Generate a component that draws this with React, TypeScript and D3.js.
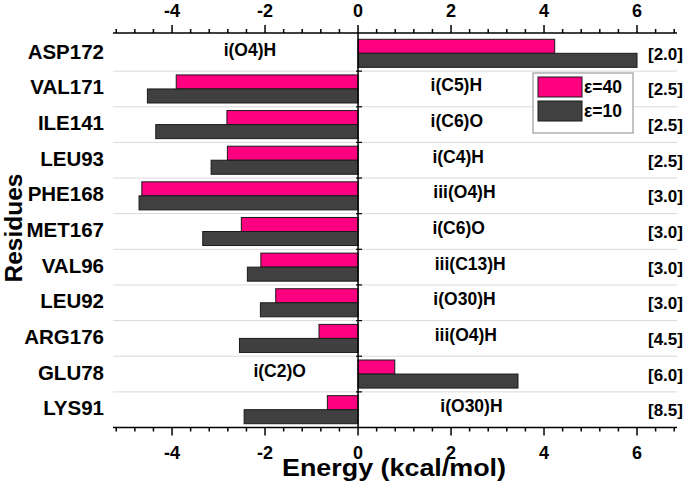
import React from "react";
import * as d3 from "d3";

const residues = ["ASP172", "VAL171", "ILE141", "LEU93", "PHE168", "MET167", "VAL96", "LEU92", "ARG176", "GLU78", "LYS91"];
const eps40 = [4.23, -3.91, -2.82, -2.81, -4.65, -2.51, -2.09, -1.77, -0.84, 0.79, -0.66];
const eps10 = [6.0, -4.53, -4.35, -3.16, -4.71, -3.34, -2.38, -2.10, -2.55, 3.44, -2.45];
const interactions = ["i(O4)H", "i(C5)H", "i(C6)O", "i(C4)H", "iii(O4)H", "i(C6)O", "iii(C13)H", "i(O30)H", "iii(O4)H", "i(C2)O", "i(O30)H"];
const interactionX = [-2.89, 1.56, 1.56, 1.6, 1.62, 1.6, 1.65, 1.62, 1.65, -2.25, 1.77];
const distances = ["[2.0]", "[2.5]", "[2.5]", "[2.5]", "[3.0]", "[3.0]", "[3.0]", "[3.0]", "[4.5]", "[6.0]", "[8.5]"];
const seriesKeys = ["ε=40", "ε=10"];
const seriesColors = ["#ff0080", "#404040"];
const majorTicks = [-4, -2, 0, 2, 4, 6];

const W = 685;
const H = 487;
const FONT = "'Liberation Sans', Arial, Helvetica, sans-serif";

export default function App() {
  const x = d3.scaleLinear().domain([-5.27, 6.86]).range([113, 677]);
  const y = d3.scaleBand<string>().domain(residues).range([35.5, 427.5]).paddingInner(0).paddingOuter(0);
  const inner = d3.scaleBand<string>().domain(seriesKeys).range([0, y.bandwidth()]).paddingInner(0).paddingOuter(0.27);
  const minorTicks = d3.range(-13, 18).map((i) => +(i * 0.4).toFixed(2));
  const axisTopY = 33;
  const axisBotY = 427.5;
  const data = [eps40, eps10];

  return (
    <svg width={W} height={H} style={{ position: "absolute", left: 0, top: 0, background: "#fff" }} fontFamily={FONT}>
      {residues.slice(1).map((r) => (
        <line key={"g" + r} x1={113} x2={677} y1={y(r)!} y2={y(r)!} stroke="#d9d9d9" strokeWidth={1} />
      ))}
      {data.map((vals, si) =>
        vals.map((v, i) => {
          const r = residues[i];
          const x0 = x(Math.min(0, v));
          const x1 = x(Math.max(0, v));
          return (
            <rect
              key={si + "-" + i}
              x={x0}
              y={y(r)! + inner(seriesKeys[si])!}
              width={x1 - x0}
              height={inner.bandwidth()}
              fill={seriesColors[si]}
              stroke="#1a1a1a"
              strokeWidth={1}
            />
          );
        })
      )}
      <line x1={x(0)} x2={x(0)} y1={axisTopY} y2={axisBotY} stroke="#000" strokeWidth={1.5} />
      {residues.slice(1).map((r) => (
        <line key={"zt" + r} x1={x(0) - 2} x2={x(0) + 4} y1={y(r)!} y2={y(r)!} stroke="#000" strokeWidth={1.2} />
      ))}
      <line x1={113} x2={677} y1={axisTopY} y2={axisTopY} stroke="#000" strokeWidth={1.5} />
      {minorTicks.map((t) => (
        <line key={"tt" + t} x1={x(t)} x2={x(t)} y1={axisTopY} y2={axisTopY - (majorTicks.includes(t) ? 8 : 4)} stroke="#000" strokeWidth={1.5} />
      ))}
      {majorTicks.map((t) => (
        <text key={"tl" + t} x={x(t)} y={16.5} textAnchor="middle" fontSize={18} fontWeight="bold">
          {t}
        </text>
      ))}
      <line x1={113} x2={677} y1={axisBotY} y2={axisBotY} stroke="#000" strokeWidth={1.5} />
      {minorTicks.map((t) => (
        <line key={"bt" + t} x1={x(t)} x2={x(t)} y1={axisBotY} y2={axisBotY + (majorTicks.includes(t) ? 8 : 4)} stroke="#000" strokeWidth={1.5} />
      ))}
      {majorTicks.map((t) => (
        <text key={"bl" + t} x={x(t)} y={459} textAnchor="middle" fontSize={18} fontWeight="bold">
          {t}
        </text>
      ))}
      {residues.map((r) => (
        <text key={"yl" + r} x={104} y={y(r)! + y.bandwidth() / 2 + 5.5} textAnchor="end" fontSize={20.5} fontWeight="bold">
          {r}
        </text>
      ))}
      {residues.map((r, i) => (
        <text key={"an" + r} x={x(interactionX[i])} y={y(r)! + y.bandwidth() / 2 + 2.5} fontSize={17.5} fontWeight="bold">
          {interactions[i]}
        </text>
      ))}
      {residues.map((r, i) => (
        <text key={"ds" + r} x={648} y={y(r)! + y.bandwidth() / 2 + 6.5} fontSize={17} fontWeight="bold">
          {distances[i]}
        </text>
      ))}
      <rect x={533} y={73} width={100} height={60} fill="#fff" stroke="#888" strokeWidth={1} />
      {seriesKeys.map((k, i) => (
        <g key={"lg" + k}>
          <rect x={538} y={77 + i * 24} width={44} height={20} fill={seriesColors[i]} stroke="#1a1a1a" strokeWidth={1} />
          <text x={584} y={93 + i * 24} fontSize={17.5} fontWeight="bold">
            {k}
          </text>
        </g>
      ))}
      <text transform="translate(22,228) rotate(-90)" textAnchor="middle" fontSize={24.5} fontWeight="bold">
        Residues
      </text>
      <text x={394} y={476} textAnchor="middle" fontSize={24} fontWeight="bold" textLength={224} lengthAdjust="spacingAndGlyphs">
        Energy (kcal/mol)
      </text>
    </svg>
  );
}
